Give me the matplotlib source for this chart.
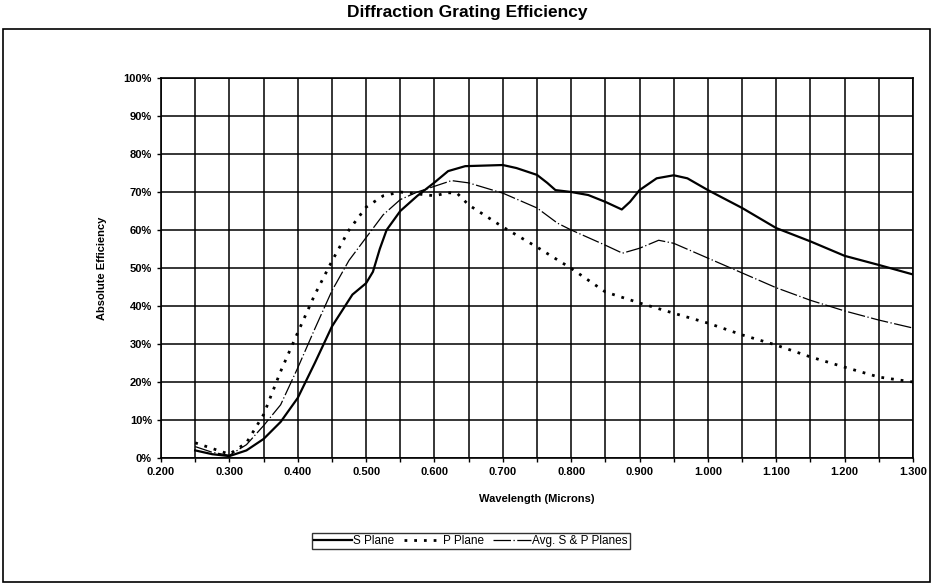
import numpy as np
import matplotlib
matplotlib.use("Agg")
import matplotlib.pyplot as plt
from matplotlib.patches import Rectangle
from matplotlib.ticker import MultipleLocator, FuncFormatter

plt.rcParams['font.family'] = ['Liberation Sans', 'DejaVu Sans']

# wavelength (microns) and absolute efficiency (%)
wl_s = [0.250, 0.275, 0.300, 0.325, 0.350, 0.375, 0.400, 0.425, 0.450, 0.480,
        0.500, 0.510, 0.520, 0.530, 0.550, 0.575, 0.600, 0.620, 0.645, 0.700,
        0.720, 0.750, 0.765, 0.777, 0.800, 0.825, 0.850, 0.874, 0.886, 0.900,
        0.925, 0.950, 0.970, 1.000, 1.050, 1.100, 1.150, 1.200, 1.250, 1.300]
s_plane = [2.0, 1.0, 0.5, 2.0, 5.0, 9.5, 15.8, 25.0, 34.6, 43.0,
           46.0, 49.0, 55.0, 60.0, 65.0, 69.0, 72.5, 75.5, 76.8, 77.1,
           76.3, 74.5, 72.4, 70.5, 70.0, 69.2, 67.4, 65.4, 67.4, 70.5,
           73.6, 74.4, 73.6, 70.5, 65.8, 60.5, 57.0, 53.2, 50.8, 48.3]

wl_p = [0.250, 0.275, 0.300, 0.325, 0.350, 0.375, 0.400, 0.425, 0.450, 0.475,
        0.500, 0.525, 0.550, 0.575, 0.600, 0.620, 0.633, 0.650, 0.700, 0.750,
        0.800, 0.850, 0.900, 0.950, 1.000, 1.050, 1.100, 1.150, 1.200, 1.250,
        1.300]
p_plane = [4.0, 2.5, 1.0, 4.0, 11.4, 22.8, 33.0, 43.0, 51.8, 60.0,
           66.0, 69.0, 70.0, 69.5, 69.0, 69.8, 69.7, 66.6, 60.8, 55.5,
           49.9, 43.7, 40.8, 38.1, 35.5, 32.4, 29.7, 26.6, 23.9, 21.3,
           20.0]

wl_avg = [0.250, 0.275, 0.300, 0.325, 0.350, 0.375, 0.400, 0.425, 0.450, 0.475,
          0.500, 0.525, 0.550, 0.575, 0.600, 0.625, 0.650, 0.700, 0.750, 0.780,
          0.800, 0.850, 0.875, 0.900, 0.928, 0.950, 1.000, 1.050, 1.100, 1.150,
          1.200, 1.250, 1.300]
avg_plane = [3.0, 1.5, 0.7, 3.5, 8.5, 14.0, 23.7, 34.0, 44.0, 52.0,
             58.0, 64.0, 68.0, 70.0, 71.5, 73.0, 72.4, 69.7, 65.8, 61.8,
             60.0, 56.0, 53.9, 55.2, 57.3, 56.5, 52.6, 48.7, 44.8, 41.5,
             38.7, 36.3, 34.2]

fig = plt.figure(figsize=(9.35, 5.84), dpi=100)
W, H = 935, 584

# outer chart frame
fig.patches.append(Rectangle((3 / W, 1 - 582 / H), 927 / W, 553 / H,
                             transform=fig.transFigure, fill=False,
                             edgecolor='black', linewidth=1.2))
fig.text(467 / W, 1 - 12 / H, "Diffraction Grating Efficiency",
         ha='center', va='center', fontsize=12.5, fontweight='bold')

ax = fig.add_axes([161 / W, 1 - 458 / H, 752 / W, 380 / H])

ax.plot(wl_s, s_plane, color='black', lw=1.6, label='S Plane')
ax.plot(wl_p, p_plane, color='black', lw=2.0, linestyle=(0, (1, 2.5)),
        label='P Plane')
ax.plot(wl_avg, avg_plane, color='black', lw=0.9,
        linestyle=(0, (14, 2, 1, 2)), label='Avg. S & P Planes')

ax.set_xlim(0.2, 1.3)
ax.set_ylim(0, 100)
ax.xaxis.set_major_locator(MultipleLocator(0.1))
ax.xaxis.set_minor_locator(MultipleLocator(0.05))
ax.yaxis.set_major_locator(MultipleLocator(10))
ax.xaxis.set_major_formatter(FuncFormatter(lambda v, p: f"{v:.3f}"))
ax.yaxis.set_major_formatter(FuncFormatter(lambda v, p: f"{v:.0f}%"))
ax.grid(True, which='both', color='black', lw=1.1)
ax.tick_params(which='both', direction='out', length=3, width=1,
               labelsize=8)
for lbl in ax.get_xticklabels() + ax.get_yticklabels():
    lbl.set_fontweight('bold')
for sp in ax.spines.values():
    sp.set_linewidth(1.2)

ax.set_xlabel("Wavelength (Microns)", fontsize=8, fontweight='bold',
              labelpad=12)
ax.set_ylabel("Absolute Efficiency", fontsize=8, fontweight='bold',
              labelpad=12)

leg = fig.legend(loc='center', bbox_to_anchor=(471 / W, 1 - 541 / H),
                 ncol=3, fontsize=8.5, frameon=True, fancybox=False,
                 edgecolor='black', handlelength=3.2, handletextpad=0.1,
                 columnspacing=0.8, borderpad=0.2)
leg.get_frame().set_linewidth(1.0)

fig.savefig("out.png", dpi=100)
